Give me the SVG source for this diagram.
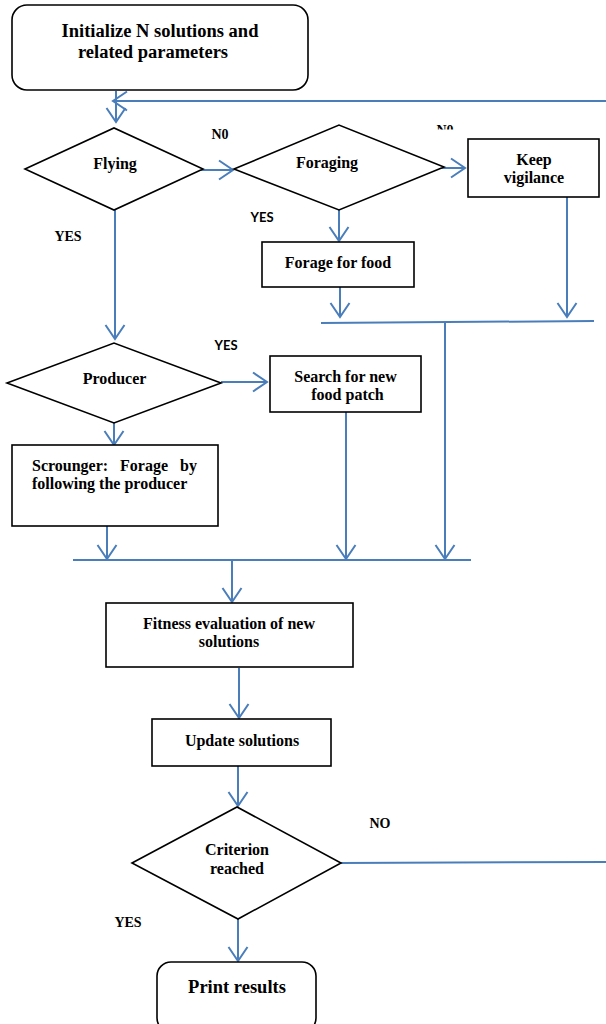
<svg xmlns="http://www.w3.org/2000/svg" width="606" height="1024" viewBox="0 0 606 1024">
<style>
.box{fill:#fff;stroke:#000;stroke-width:1.6}
.t{font-family:"Liberation Serif","Times New Roman",serif;font-weight:bold;font-size:16px;fill:#000}
.tc{text-anchor:middle}
.lbl{font-family:"Liberation Serif","Times New Roman",serif;font-weight:bold;font-size:14px;fill:#000}
.sl{font-family:Lato,"Liberation Sans",sans-serif;font-weight:bold;font-size:13px;fill:#000}
.c{fill:none;stroke:#4a7ebb;stroke-width:2}
</style>
<defs>
<marker id="ah" markerUnits="userSpaceOnUse" markerWidth="24" markerHeight="24" refX="0" refY="0" viewBox="-16 -12 18 24" orient="auto">
<path d="M-14,-9.5 L0,0 L-14,9.5" fill="none" stroke="#4a7ebb" stroke-width="2"/>
</marker>
<clipPath id="clipN0"><rect x="420" y="110" width="60" height="19.5"/></clipPath>
</defs>
<rect width="606" height="1024" fill="#fff"/>

<g id="connectors">
<line class="c" x1="116" y1="91" x2="116" y2="122" marker-end="url(#ah)"/>
<line class="c" x1="606" y1="101" x2="113" y2="101" marker-end="url(#ah)"/>
<line class="c" x1="193" y1="170" x2="233" y2="170" marker-end="url(#ah)"/>
<line class="c" x1="425" y1="168" x2="465" y2="168" marker-end="url(#ah)"/>
<line class="c" x1="115" y1="210" x2="115" y2="339" marker-end="url(#ah)"/>
<line class="c" x1="339" y1="209" x2="339" y2="241" marker-end="url(#ah)"/>
<line class="c" x1="340" y1="287" x2="340" y2="317" marker-end="url(#ah)"/>
<line class="c" x1="567" y1="197" x2="567" y2="317" marker-end="url(#ah)"/>
<line class="c" x1="321" y1="323" x2="594" y2="321"/>
<line class="c" x1="445" y1="322" x2="445" y2="559" marker-end="url(#ah)"/>
<line class="c" x1="221" y1="382" x2="267" y2="382" marker-end="url(#ah)"/>
<line class="c" x1="114" y1="423" x2="114" y2="445" marker-end="url(#ah)"/>
<line class="c" x1="346" y1="412" x2="346" y2="559" marker-end="url(#ah)"/>
<line class="c" x1="107" y1="521" x2="107" y2="559" marker-end="url(#ah)"/>
<line class="c" x1="73" y1="560" x2="471" y2="560"/>
<line class="c" x1="232" y1="560" x2="232" y2="602" marker-end="url(#ah)"/>
<line class="c" x1="239" y1="668" x2="239" y2="718" marker-end="url(#ah)"/>
<line class="c" x1="238" y1="766" x2="238" y2="806" marker-end="url(#ah)"/>
<line class="c" x1="238" y1="919" x2="238" y2="961" marker-end="url(#ah)"/>
<line class="c" x1="341" y1="863" x2="606" y2="862"/>
</g>

<g id="init">
<rect class="box" x="12" y="5" width="296" height="85" rx="15"/>
<text class="t tc" x="160" y="37" style="font-size:18.5px">Initialize N solutions and</text>
<text class="t tc" x="153" y="58" style="font-size:18.5px">related parameters</text>
</g>

<g id="flying">
<polygon class="box" points="25,169 114,128 203,169 114,210"/>
<text class="t tc" x="115" y="169">Flying</text>
</g>

<g id="foraging">
<polygon class="box" points="234,169 339,125 444,167 339,210"/>
<text class="t tc" x="327" y="168">Foraging</text>
</g>

<g id="keep">
<rect class="box" x="468" y="139" width="131" height="58"/>
<text class="t tc" x="534" y="165">Keep</text>
<text class="t tc" x="534" y="183">vigilance</text>
</g>

<g id="forage-food">
<rect class="box" x="262" y="242" width="152" height="45"/>
<text class="t tc" x="338" y="268">Forage for food</text>
</g>

<g id="producer">
<polygon class="box" points="7,383 114,343 221,383 114,423"/>
<text class="t tc" x="114.5" y="384">Producer</text>
</g>

<g id="search">
<rect class="box" x="270" y="356" width="151" height="56"/>
<text class="t tc" x="345.5" y="382">Search for new</text>
<text class="t tc" x="347.5" y="400">food patch</text>
</g>

<g id="scrounger">
<rect class="box" x="12" y="445" width="206" height="81"/>
<text class="t" y="471"><tspan x="32">Scrounger:</tspan><tspan x="120">Forage</tspan><tspan x="197" text-anchor="end">by</tspan></text>
<text class="t" x="32" y="489">following the producer</text>
</g>

<g id="fitness">
<rect class="box" x="106" y="603" width="247" height="64"/>
<text class="t tc" x="229" y="629">Fitness evaluation of new</text>
<text class="t tc" x="229" y="647">solutions</text>
</g>

<g id="update">
<rect class="box" x="152" y="719" width="179" height="47"/>
<text class="t tc" x="242" y="746">Update solutions</text>
</g>

<g id="criterion">
<polygon class="box" points="132,863 237,807 341,863 238,919"/>
<text class="t tc" x="237" y="855">Criterion</text>
<text class="t tc" x="237" y="874">reached</text>
</g>

<g id="print">
<rect class="box" x="157" y="962" width="159" height="70" rx="14"/>
<text class="t tc" x="237" y="993" style="font-size:18.5px">Print results</text>
</g>

<g id="labels">
<text class="lbl tc" x="220" y="139">N0</text>
<text class="lbl tc" x="445" y="135" clip-path="url(#clipN0)">N0</text>
<text class="lbl tc" x="68" y="241">YES</text>
<text class="sl tc" x="262" y="222">YES</text>
<text class="sl tc" x="226" y="350">YES</text>
<text class="lbl tc" x="380" y="828">NO</text>
<text class="lbl tc" x="128" y="927">YES</text>
</g>
</svg>
